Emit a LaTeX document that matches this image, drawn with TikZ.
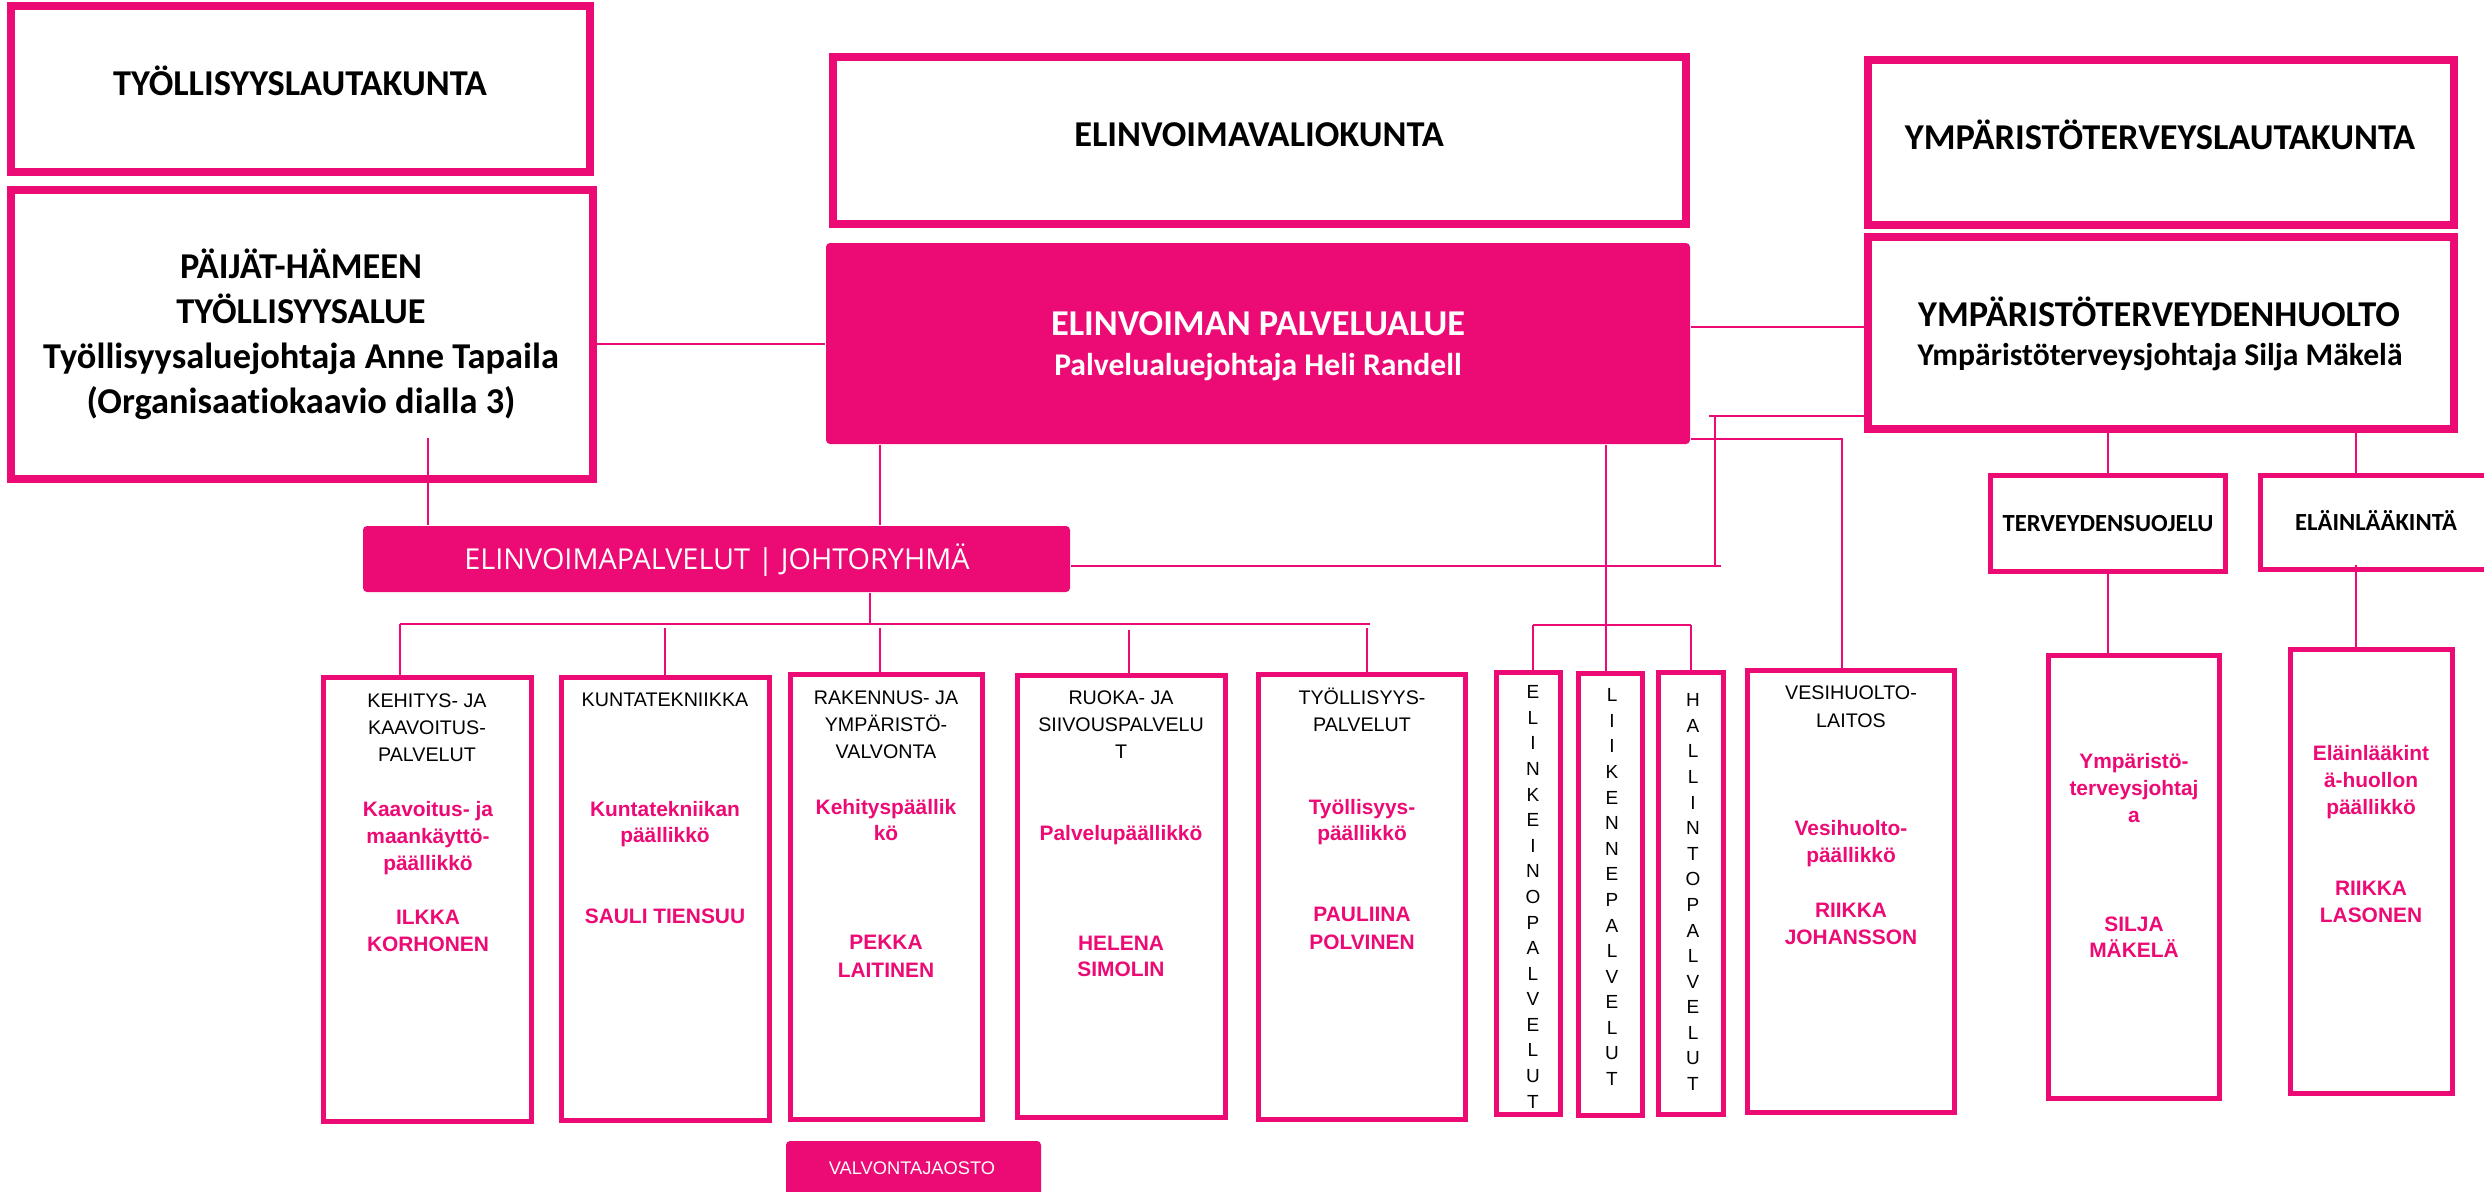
\documentclass[tikz,border=0pt]{standalone}
\usepackage{fontspec}
\usetikzlibrary{fit}
\setmainfont{Liberation Sans}
\newfontfamily\calfont[Ligatures=NoCommon]{Carlito}
\newfontfamily\libfont{Liberation Sans}
\newfontfamily\osfont{Open Sans}
\definecolor{pk}{RGB}{236,10,117}
\newcommand\Tx[5]{\node[#2,anchor=base,inner sep=0pt] (#1) at (#3,#4) {#5};}
\begin{document}
\begin{tikzpicture}[x=0.1mm,y=-0.1mm,
  bigbox/.style={draw=pk,line width=0.8mm,inner sep=0pt},
  smallbox/.style={draw=pk,line width=0.5mm,inner sep=0pt},
  fillbox/.style={fill=pk,rounded corners=0.4mm,inner sep=0pt},
  conn/.style={draw=pk,line width=0.28mm},
  topt/.style={font=\calfont\bfseries\fontsize{10.35}{12}\selectfont},
  subt/.style={font=\calfont\bfseries\fontsize{9}{11}\selectfont},
  midt/.style={font=\calfont\bfseries\fontsize{7}{8}\selectfont},
  blk/.style={font=\libfont\fontsize{5.6}{7}\selectfont},
  pnk/.style={font=\libfont\bfseries\fontsize{5.95}{7}\selectfont,text=pk},
  jrt/.style={font=\osfont\fontsize{8.2}{10}\selectfont,text=white},
  vt/.style={font=\libfont\fontsize{5.2}{7}\selectfont,text=white},
  vert/.style={font=\libfont\fontsize{5.4}{7.28}\selectfont,align=center,anchor=north,inner sep=0pt}
]
\useasboundingbox (0,0) rectangle (2484,1191);
\clip (0,0) rectangle (2484,1191);

% ---------- boxes ----------
\node[bigbox,fit={(11,6)(590,172)}] (tlk) {};
\node[bigbox,fit={(11,190)(593,479)}] (pht) {};
\node[bigbox,fit={(833,57)(1686,224)}] (evk) {};
\node[fillbox,fit={(826,243)(1690,444)}] (epa) {};
\node[bigbox,fit={(1868,60)(2454,225)}] (ytl) {};
\node[bigbox,fit={(1868,237)(2454,429)}] (yth) {};
\node[fillbox,fit={(363,526)(1070,592)}] (jry) {};

\node[smallbox,fit={(323.5,677.5)(531.5,1121.5)}] (keh) {};
\node[smallbox,fit={(561.5,677.5)(769.5,1120.5)}] (kun) {};
\node[smallbox,fit={(790.5,674.5)(982.5,1119.5)}] (rak) {};
\node[smallbox,fit={(1017.5,675.5)(1225.5,1117.5)}] (ruo) {};
\node[smallbox,fit={(1258.5,674.5)(1465.5,1119.5)}] (tyo) {};
\node[smallbox,fit={(1496.5,672.5)(1560.5,1114.5)}] (eli) {};
\node[smallbox,fit={(1578.5,673.5)(1642.5,1115.5)}] (lii) {};
\node[smallbox,fit={(1658.5,672.5)(1723.5,1114.5)}] (hal) {};
\node[smallbox,fit={(1747.5,670.5)(1954.5,1112.5)}] (ves) {};
\node[smallbox,fit={(1990.5,475.5)(2225.5,571.5)}] (ter) {};
\node[smallbox,fit={(2260.5,475.5)(2495.5,569.5)}] (ela) {};
\node[smallbox,fit={(2048.5,655.5)(2219.5,1098.5)}] (ymp) {};
\node[smallbox,fit={(2290.5,649.5)(2452.5,1093.5)}] (elh) {};
\node[fillbox,fit={(786,1141)(1041,1215)}] (valv) {};

% ---------- connectors ----------
\coordinate (p344) at (0,344);
\draw[conn] (pht.east |- p344) -- (epa.west |- p344);
\coordinate (p327) at (0,327);
\draw[conn] (epa.east |- p327) -- (yth.west |- p327);
\coordinate (c1) at (428,438);
\draw[conn] (c1) -- (c1 |- jry.north);
\coordinate (c880) at (880,0);
\draw[conn] (epa.south -| c880) -- (jry.north -| c880);
\coordinate (c2a) at (0,566);
\coordinate (c2) at (1721,566);
\draw[conn] (jry.east |- c2a) -- (c2);
\coordinate (c3) at (1715,567);
\coordinate (c4) at (1715,417);
\draw[conn] (c3) -- (c4);
\coordinate (c5) at (1709,416);
\draw[conn] (c5) -- (c5 -| yth.west);
\coordinate (c6) at (1842,439);
\draw[conn] (c6 -| epa.east) -- (c6) -- (c6 |- ves.north);
\coordinate (c7) at (1606,625);
\draw[conn] (epa.south -| c7) -- (c7 |- lii.north);
\coordinate (c8) at (1533,625);
\coordinate (c9) at (1691,625);
\draw[conn] (c8) -- (c9);
\draw[conn] (c8) -- (c8 |- eli.north);
\draw[conn] (c9) -- (c9 |- hal.north);
\coordinate (d0) at (870,624);
\draw[conn] (jry.south -| d0) -- (d0);
\coordinate (d1) at (400,624);
\coordinate (d2) at (1370,624);
\draw[conn] (d1) -- (d2);
\draw[conn] (d1) -- (d1 |- keh.north);
\coordinate (d3) at (665,628);
\draw[conn] (d3) -- (d3 |- kun.north);
\coordinate (d4) at (880,628);
\draw[conn] (d4) -- (d4 |- rak.north);
\coordinate (d5) at (1129,630);
\draw[conn] (d5) -- (d5 |- ruo.north);
\coordinate (d6) at (1367,628);
\draw[conn] (d6) -- (d6 |- tyo.north);
\coordinate (e1) at (2108,0);
\draw[conn] (yth.south -| e1) -- (ter.north -| e1);
\draw[conn] (ter.south -| e1) -- (ymp.north -| e1);
\coordinate (e2) at (2356,0);
\draw[conn] (yth.south -| e2) -- (ela.north -| e2);
\coordinate (e3) at (2356,565);
\draw[conn] (e3) -- (elh.north -| e3);

% ---------- texts: upper ----------
\Tx{t1}{topt}{300}{95}{TYÖLLISYYSLAUTAKUNTA}
\Tx{t2}{topt}{301}{278}{PÄIJÄT-HÄMEEN}
\Tx{t3}{topt}{301}{323}{TYÖLLISYYSALUE}
\Tx{t4}{topt}{301}{368}{Työllisyysaluejohtaja Anne Tapaila}
\Tx{t5}{topt}{301}{413}{(Organisaatiokaavio dialla 3)}
\Tx{t6}{topt}{1259}{146}{ELINVOIMAVALIOKUNTA}
\Tx{t7}{topt,text=white}{1258}{335}{ELINVOIMAN PALVELUALUE}
\Tx{t8}{subt,text=white}{1258}{375}{Palvelualuejohtaja Heli Randell}
\Tx{t9}{topt}{2160}{149}{YMPÄRISTÖTERVEYSLAUTAKUNTA}
\Tx{t10}{topt}{2159}{326}{YMPÄRISTÖTERVEYDENHUOLTO}
\Tx{t11}{subt}{2160}{365}{Ympäristöterveysjohtaja Silja Mäkelä}
\Tx{t12}{midt}{2108}{531}{TERVEYDENSUOJELU}
\Tx{t13}{midt}{2376}{530}{ELÄINLÄÄKINTÄ}
\Tx{t14}{jrt}{717}{569}{ELINVOIMAPALVELUT | JOHTORYHMÄ}
\Tx{t15}{vt}{912}{1174}{VALVONTAJAOSTO}

% ---------- texts: lower black ----------
\Tx{k1}{blk}{427}{707}{KEHITYS- JA}
\Tx{k2}{blk}{427}{734}{KAAVOITUS-}
\Tx{k3}{blk}{427}{761}{PALVELUT}
\Tx{k4}{blk}{665}{706}{KUNTATEKNIIKKA}
\Tx{k5}{blk}{886}{704}{RAKENNUS- JA}
\Tx{k6}{blk}{886}{731}{YMPÄRISTÖ-}
\Tx{k7}{blk}{886}{758}{VALVONTA}
\Tx{k8}{blk}{1121}{704}{RUOKA- JA}
\Tx{k9}{blk}{1121}{731}{SIIVOUSPALVELU}
\Tx{k10}{blk}{1121}{758}{T}
\Tx{k11}{blk}{1362}{704}{TYÖLLISYYS-}
\Tx{k12}{blk}{1362}{731}{PALVELUT}
\Tx{k13}{blk}{1851}{699}{VESIHUOLTO-}
\Tx{k14}{blk}{1851}{727}{LAITOS}

% ---------- texts: lower pink ----------
\Tx{q1}{pnk}{428}{816}{Kaavoitus- ja}
\Tx{q2}{pnk}{428}{843}{maankäyttö-}
\Tx{q3}{pnk}{428}{870}{päällikkö}
\Tx{q4}{pnk}{428}{924}{ILKKA}
\Tx{q5}{pnk}{428}{951}{KORHONEN}
\Tx{q6}{pnk}{665}{816}{Kuntatekniikan}
\Tx{q7}{pnk}{665}{842}{päällikkö}
\Tx{q8}{pnk}{665}{923}{SAULI TIENSUU}
\Tx{q9}{pnk}{886}{814}{Kehityspäällik}
\Tx{q10}{pnk}{886}{840}{kö}
\Tx{q11}{pnk}{886}{949}{PEKKA}
\Tx{q12}{pnk}{886}{977}{LAITINEN}
\Tx{q13}{pnk}{1121}{840}{Palvelupäällikkö}
\Tx{q14}{pnk}{1121}{950}{HELENA}
\Tx{q15}{pnk}{1121}{976}{SIMOLIN}
\Tx{q16}{pnk}{1362}{814}{Työllisyys-}
\Tx{q17}{pnk}{1362}{840}{päällikkö}
\Tx{q18}{pnk}{1362}{921}{PAULIINA}
\Tx{q19}{pnk}{1362}{949}{POLVINEN}
\Tx{q20}{pnk}{1851}{835}{Vesihuolto-}
\Tx{q21}{pnk}{1851}{862}{päällikkö}
\Tx{q22}{pnk}{1851}{917}{RIIKKA}
\Tx{q23}{pnk}{1851}{944}{JOHANSSON}
\Tx{q24}{pnk}{2134}{768}{Ympäristö-}
\Tx{q25}{pnk}{2134}{795}{terveysjohtaj}
\Tx{q26}{pnk}{2134}{822}{a}
\Tx{q27}{pnk}{2134}{931}{SILJA}
\Tx{q28}{pnk}{2134}{957}{MÄKELÄ}
\Tx{q29}{pnk}{2371}{760}{Eläinlääkint}
\Tx{q30}{pnk}{2371}{787}{ä-huollon}
\Tx{q31}{pnk}{2371}{814}{päällikkö}
\Tx{q32}{pnk}{2371}{895}{RIIKKA}
\Tx{q33}{pnk}{2371}{922}{LASONEN}

% ---------- vertical texts ----------
\node[vert] (v1) at (1533,685) {E\\L\\I\\N\\K\\E\\I\\N\\O\\P\\A\\L\\V\\E\\L\\U\\T};
\node[vert] (v2) at (1612,688) {L\\I\\I\\K\\E\\N\\N\\E\\P\\A\\L\\V\\E\\L\\U\\T};
\node[vert] (v3) at (1693,693) {H\\A\\L\\L\\I\\N\\T\\O\\P\\A\\L\\V\\E\\L\\U\\T};
\end{tikzpicture}
\end{document}
